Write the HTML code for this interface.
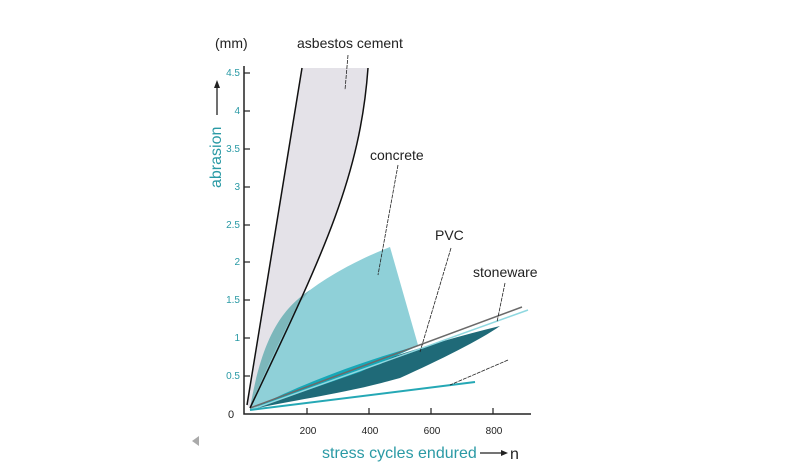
<!DOCTYPE html>
<html><head><style>
body{margin:0;background:#fff;}
svg{display:block;font-family:"Liberation Sans Narrow","Liberation Sans",sans-serif;}
</style></head><body>
<svg width="800" height="465" viewBox="0 0 800 465">
<!-- asbestos -->
<path d="M247,405 L302,68 L368,68 C360,180 320,260 250,408 Z" fill="#e4e2e8"/>
<!-- concrete -->
<path d="M250,410 C262,340 280,310 310,290 C340,268 370,255 390,247 L418,345 L252,410 Z" fill="#8fd0d8"/>
<!-- overlap darker -->
<path d="M250,408 C262,340 280,310 310,290 L297,306 C285,330 265,370 250,408 Z" fill="#7ab4b8" opacity="0.9"/>
<!-- PVC band -->
<path d="M250,410 C320,380 420,345 500,326 C480,340 440,360 400,378 C340,395 290,400 250,410 Z" fill="#1f6a78"/>
<path d="M250,410 C300,385 350,365 420,345 L360,372 Z" fill="#17a8b8"/>
<line x1="250" y1="408" x2="522" y2="307" stroke="#6a6a6a" stroke-width="1.5"/>
<line x1="250" y1="410" x2="528" y2="310" stroke="#8fd8e0" stroke-width="1.5"/>
<line x1="250" y1="410" x2="475" y2="382" stroke="#25a8b5" stroke-width="2"/>
<!-- asbestos edges -->
<path d="M247,405 L302,68" stroke="#111" stroke-width="1.5" fill="none"/>
<path d="M368,68 C360,180 320,260 250,408" stroke="#111" stroke-width="1.5" fill="none"/>
<!-- leaders -->
<g stroke="#222" stroke-width="0.8" stroke-dasharray="4,1">
<line x1="348" y1="55" x2="345" y2="90"/>
<line x1="398" y1="165" x2="378" y2="275"/>
<line x1="451" y1="248" x2="420" y2="352"/>
<line x1="505" y1="283" x2="497" y2="322"/>
<line x1="508" y1="360" x2="450" y2="385"/>
</g>
<!-- axes -->
<path d="M244,66 V414 H531" stroke="#222" stroke-width="1.5" fill="none"/>
<g stroke="#222" stroke-width="1.2">
<line x1="244" y1="376" x2="250" y2="376"/><line x1="244" y1="338" x2="250" y2="338"/>
<line x1="244" y1="300" x2="250" y2="300"/><line x1="244" y1="262" x2="250" y2="262"/>
<line x1="244" y1="225" x2="250" y2="225"/><line x1="244" y1="187" x2="250" y2="187"/>
<line x1="244" y1="149" x2="250" y2="149"/><line x1="244" y1="111" x2="250" y2="111"/>
<line x1="244" y1="73" x2="250" y2="73"/>
<line x1="307" y1="408" x2="307" y2="414"/><line x1="369" y1="408" x2="369" y2="414"/>
<line x1="431" y1="408" x2="431" y2="414"/><line x1="493" y1="408" x2="493" y2="414"/>
</g>
<g fill="#2a9aa5" font-size="10" text-anchor="end">
<text x="240" y="379">0.5</text><text x="240" y="341">1</text><text x="240" y="303">1.5</text>
<text x="240" y="265">2</text><text x="240" y="228">2.5</text><text x="240" y="190">3</text>
<text x="240" y="152">3.5</text><text x="240" y="114">4</text><text x="240" y="76">4.5</text>
</g>
<text x="228" y="418" font-size="11" fill="#222">0</text>
<g fill="#222" font-size="10" text-anchor="middle">
<text x="308" y="434">200</text><text x="370" y="434">400</text><text x="432" y="434">600</text><text x="494" y="434">800</text>
</g>
<text x="215" y="48" font-size="14" fill="#222">(mm)</text>
<text x="297" y="48" font-size="14" fill="#222">asbestos cement</text>
<text x="370" y="160" font-size="14" fill="#222">concrete</text>
<text x="435" y="240" font-size="14" fill="#222">PVC</text>
<text x="473" y="277" font-size="14" fill="#222">stoneware</text>
<text transform="translate(221,188) rotate(-90)" font-size="16" fill="#2a9aa5">abrasion</text>
<line x1="217" y1="115" x2="217" y2="85" stroke="#222" stroke-width="1.3"/>
<path d="M214,88 L217,80 L220,88 Z" fill="#222"/>
<text x="322" y="458" font-size="16" fill="#2a9aa5">stress cycles endured</text>
<line x1="480" y1="453" x2="504" y2="453" stroke="#222" stroke-width="1.3"/>
<path d="M501,450 L508,453 L501,456 Z" fill="#222"/>
<text x="510" y="459" font-size="16" fill="#222">n</text>
<path d="M199,436 L192,441 L199,446 Z" fill="#aaa"/>
</svg>
</body></html>
